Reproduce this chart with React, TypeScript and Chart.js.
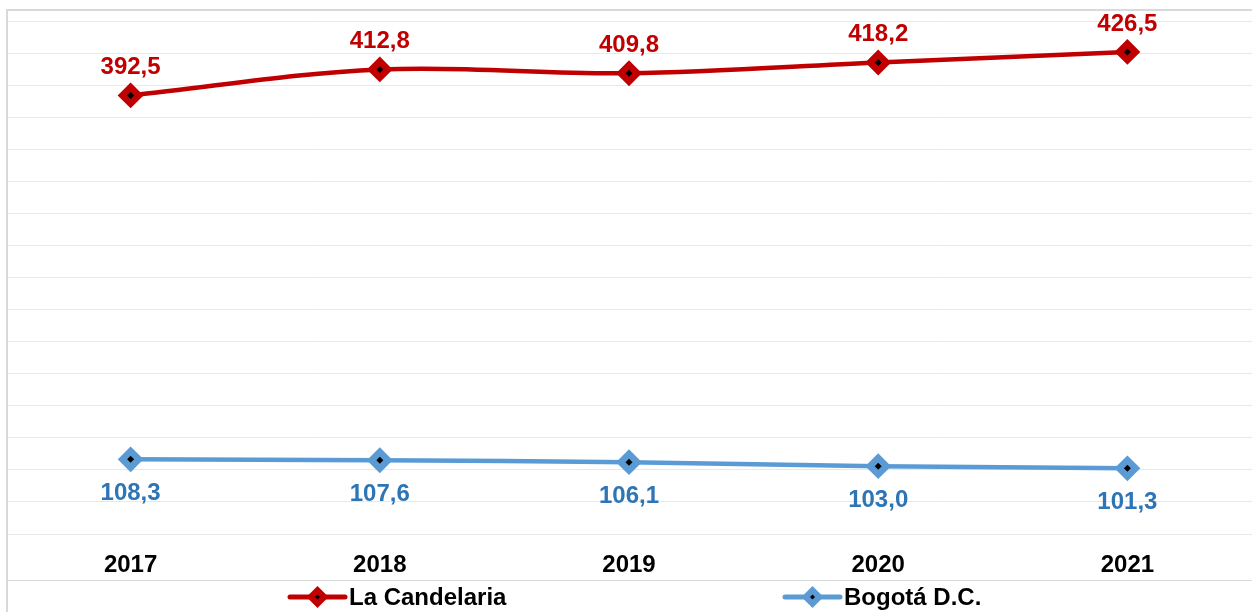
import React, { useEffect, useRef } from "react";
import { Chart, registerables } from "chart.js";

Chart.register(...registerables);

// ---- data ----
const years: string[] = ["2017", "2018", "2019", "2020", "2021"];
const laCandelaria: number[] = [392.5, 412.8, 409.8, 418.2, 426.5];
const bogota: number[] = [108.3, 107.6, 106.1, 103.0, 101.3];
const seriesNames: string[] = ["La Candelaria", "Bogotá D.C."];

// ---- axis / style ----
const Y_MIN = 50;
const Y_MAX = 460;
const Y_STEP = 25;
const FONT = '"Liberation Sans", Arial, sans-serif';
const FONT_SIZE = 24;
const RED = "#c00000";
const BLUE_LINE = "#5b9bd5";
const BLUE_TEXT = "#2e75b6";
const FRAME = "#d9d9d9";

const fmt = (v: number) => v.toFixed(1).replace(".", ",");

function diamond(ctx: CanvasRenderingContext2D, x: number, y: number, r: number) {
  ctx.beginPath();
  ctx.moveTo(x, y - r);
  ctx.lineTo(x + r, y);
  ctx.lineTo(x, y + r);
  ctx.lineTo(x - r, y);
  ctx.closePath();
}

const pointDecor = {
  id: "pointDecor",
  afterDatasetsDraw(chart: any) {
    const ctx: CanvasRenderingContext2D = chart.ctx;
    chart.data.datasets.forEach((ds: any, i: number) => {
      const meta = chart.getDatasetMeta(i);
      meta.data.forEach((pt: any, j: number) => {
        const { x, y } = pt.getProps(["x", "y"], true);
        ctx.save();
        ctx.fillStyle = "#000";
        diamond(ctx, x, y, 3.5);
        ctx.fill();
        ctx.font = `bold ${FONT_SIZE}px ${FONT}`;
        ctx.fillStyle = ds.labelColor;
        ctx.textAlign = "center";
        ctx.textBaseline = "middle";
        const off = ds.labelAbove ? -28 : 34;
        ctx.fillText(fmt(ds.data[j]), x, y + off);
        ctx.restore();
      });
    });
  },
};

const frameAndLegend = {
  id: "frameAndLegend",
  afterDraw(chart: any) {
    const ctx: CanvasRenderingContext2D = chart.ctx;
    const W = chart.width;
    const H = chart.height;
    ctx.save();
    // frame
    ctx.strokeStyle = FRAME;
    ctx.lineWidth = 2;
    ctx.beginPath();
    ctx.moveTo(7, H + 2);
    ctx.lineTo(7, 10);
    ctx.lineTo(W + 2, 10);
    ctx.stroke();
    ctx.lineWidth = 1;
    ctx.beginPath();
    ctx.moveTo(8, 580.5);
    ctx.lineTo(W, 580.5);
    ctx.stroke();

    // legend
    const ly = 597;
    const starts = [290, 785];
    chart.data.datasets.forEach((ds: any, i: number) => {
      const x0 = starts[i];
      ctx.strokeStyle = ds.borderColor;
      ctx.lineWidth = 5;
      ctx.lineCap = "round";
      ctx.beginPath();
      ctx.moveTo(x0, ly);
      ctx.lineTo(x0 + 55, ly);
      ctx.stroke();
      ctx.fillStyle = ds.borderColor;
      diamond(ctx, x0 + 27.5, ly, 11);
      ctx.fill();
      ctx.fillStyle = "#000";
      diamond(ctx, x0 + 27.5, ly, 2.5);
      ctx.fill();
      ctx.font = `bold ${FONT_SIZE}px ${FONT}`;
      ctx.fillStyle = "#000";
      ctx.textAlign = "left";
      ctx.textBaseline = "middle";
      ctx.fillText(ds.label, x0 + 59, ly + 1);
    });
    ctx.restore();
  },
};

export default function App() {
  const ref = useRef<HTMLCanvasElement | null>(null);

  useEffect(() => {
    if (!ref.current) return;
    const chart = new Chart(ref.current, {
      type: "line",
      data: {
        labels: years,
        datasets: [
          {
            label: seriesNames[0],
            data: laCandelaria,
            borderColor: RED,
            backgroundColor: RED,
            borderWidth: 4.5,
            tension: 0.35,
            pointStyle: "rectRot",
            pointRadius: 11.5,
            pointBorderWidth: 2,
            pointBackgroundColor: RED,
            pointBorderColor: RED,
            labelColor: RED,
            labelAbove: true,
          } as any,
          {
            label: seriesNames[1],
            data: bogota,
            borderColor: BLUE_LINE,
            backgroundColor: BLUE_LINE,
            borderWidth: 4.5,
            tension: 0.35,
            pointStyle: "rectRot",
            pointRadius: 11.5,
            pointBorderWidth: 2,
            pointBackgroundColor: BLUE_LINE,
            pointBorderColor: BLUE_LINE,
            labelColor: BLUE_TEXT,
            labelAbove: false,
          } as any,
        ],
      },
      options: {
        animation: false,
        responsive: true,
        maintainAspectRatio: false,
        layout: { autoPadding: false, padding: { left: 6, right: 0, top: 9, bottom: 15.2 } },
        plugins: {
          legend: { display: false },
          tooltip: { enabled: false },
        },
        scales: {
          x: {
            offset: true,
            grid: { display: false, drawTicks: false },
            border: { display: false },
            ticks: {
              padding: 17,
              color: "#000",
              font: { family: FONT, size: FONT_SIZE, weight: "bold" },
            },
          },
          y: {
            min: Y_MIN,
            max: Y_MAX,
            grid: { color: "#e8e8e8", lineWidth: 1, drawTicks: false },
            border: { display: false },
            ticks: { display: false, stepSize: Y_STEP },
            afterBuildTicks: (scale: any) => {
              const t: { value: number }[] = [];
              for (let v = Y_MIN; v <= Y_MAX - 10; v += Y_STEP) t.push({ value: v });
              scale.ticks = t;
            },
          },
        },
      },
      plugins: [pointDecor, frameAndLegend],
    });
    return () => chart.destroy();
  }, []);

  return (
    <div style={{ position: "absolute", left: 0, top: 0, width: 1252, height: 612, background: "#fff" }}>
      <canvas ref={ref} />
    </div>
  );
}
